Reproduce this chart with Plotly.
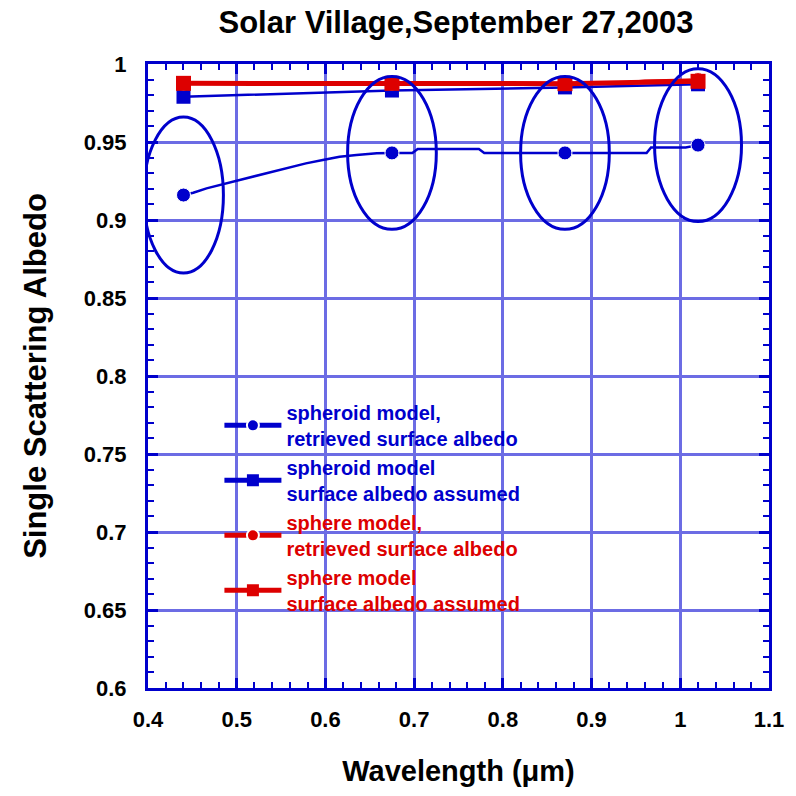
import plotly.graph_objects as go

# AERONET wavelengths (um) and single scattering albedo retrievals
wavelengths = [0.44, 0.675, 0.87, 1.02]
ssa_spheroid_retrieved = [0.916, 0.943, 0.943, 0.948]
ssa_spheroid_assumed = [0.979, 0.983, 0.985, 0.987]
ssa_sphere_retrieved = [0.9878, 0.9878, 0.9878, 0.990]
ssa_sphere_assumed = [0.9876, 0.9876, 0.9874, 0.9889]

# spectral curves between the retrieval wavelengths
curve_spheroid_wl = [0.44, 0.451, 0.466, 0.488, 0.503, 0.522, 0.541, 0.560, 0.578,
                     0.597, 0.616, 0.635, 0.658, 0.675, 0.698, 0.704, 0.773, 0.779,
                     0.87, 0.962, 0.967, 1.006, 1.02]
curve_spheroid_ssa = [0.916, 0.9175, 0.9203, 0.9235, 0.9256, 0.9282, 0.931, 0.9338, 0.9363,
                      0.9385, 0.9406, 0.9417, 0.9428, 0.943, 0.943, 0.9455, 0.9455, 0.943,
                      0.943, 0.943, 0.9465, 0.9465, 0.948]
curve_sphere_wl = [0.44, 0.675, 0.87, 0.93, 0.96, 1.02]
curve_sphere_ssa = [0.9878, 0.9878, 0.9878, 0.9879, 0.9893, 0.990]

# ellipse half-axes around the spheroid retrievals
ellipse_dx = [0.045, 0.05, 0.05, 0.049]
ellipse_dy = [0.05, 0.049, 0.049, 0.049]

BLUE = "#0000cc"
RED = "#dd0000"
GRID = "#6c6ce4"
FONT = "Liberation Sans"


def merged(curve_x, curve_y, pts_x, pts_y, size):
    pts = dict(zip(curve_x, curve_y))
    pts.update(dict(zip(pts_x, pts_y)))
    xs = sorted(pts)
    ys = [pts[x] for x in xs]
    sizes = [size if x in pts_x else 0 for x in xs]
    return xs, ys, sizes


def label(line1, line2, color):
    return (f"<span style='color:{color}'><b>{line1}</b></span><br>"
            f"<span style='color:{color}'><b>{line2}</b></span>")


fig = go.Figure()

x1, y1, s1 = merged(curve_spheroid_wl, curve_spheroid_ssa,
                    wavelengths, ssa_spheroid_retrieved, 14)
fig.add_trace(go.Scatter(
    x=x1, y=y1, mode="lines+markers",
    line=dict(color=BLUE, width=2.5),
    marker=dict(symbol="circle", size=s1, color=BLUE, opacity=1),
    name=label("spheroid model,", "retrieved surface albedo", BLUE)))

fig.add_trace(go.Scatter(
    x=wavelengths, y=ssa_spheroid_assumed, mode="lines+markers",
    line=dict(color=BLUE, width=2.5),
    marker=dict(symbol="square", size=14, color=BLUE),
    name=label("spheroid model", "surface albedo assumed", BLUE)))

x3, y3, s3 = merged(curve_sphere_wl, curve_sphere_ssa,
                    wavelengths, ssa_sphere_retrieved, 14)
fig.add_trace(go.Scatter(
    x=x3, y=y3, mode="lines+markers",
    line=dict(color=RED, width=2.5),
    marker=dict(symbol="circle", size=s3, color=RED, opacity=1),
    name=label("sphere model,", "retrieved surface albedo", RED)))

fig.add_trace(go.Scatter(
    x=wavelengths, y=ssa_sphere_assumed, mode="lines+markers",
    line=dict(color=RED, width=5),
    marker=dict(symbol="square", size=15, color=RED),
    name=label("sphere model", "surface albedo assumed", RED)))

for wl, ssa, dx, dy in zip(wavelengths, ssa_spheroid_retrieved, ellipse_dx, ellipse_dy):
    fig.add_shape(type="circle", xref="x", yref="y",
                  x0=wl - dx, x1=wl + dx, y0=ssa - dy, y1=ssa + dy,
                  line=dict(color=BLUE, width=3))

axis_common = dict(
    showline=True, linecolor=BLUE, linewidth=3, mirror="ticks",
    ticks="inside", ticklen=10, tickwidth=2.5, tickcolor=BLUE,
    showgrid=True, gridcolor=GRID, gridwidth=2.5, zeroline=False,
    tickfont=dict(family=FONT, size=22, color="black", weight="bold"),
)

fig.update_xaxes(
    range=[0.4, 1.1], tick0=0.4, dtick=0.1,
    minor=dict(dtick=0.02, ticks="inside", ticklen=6, tickwidth=2, tickcolor=BLUE, showgrid=False),
    title=dict(text="Wavelength (μm)", standoff=30,
               font=dict(family=FONT, size=29, color="black", weight="bold")),
    ticklabelstandoff=10,
    **axis_common)

fig.update_yaxes(
    range=[0.6, 1.0], tick0=0.6, dtick=0.05,
    minor=dict(dtick=0.01, ticks="inside", ticklen=6, tickwidth=2, tickcolor=BLUE, showgrid=False),
    title=dict(text="Single Scattering Albedo", standoff=28,
               font=dict(family=FONT, size=31, color="black", weight="bold")),
    ticklabelstandoff=14,
    **axis_common)

fig.update_layout(
    width=796, height=796,
    margin=dict(l=148, r=23, t=64, b=108),
    paper_bgcolor="white", plot_bgcolor="white",
    font=dict(family=FONT),
    title=dict(text="Solar Village,September 27,2003", x=456 / 796, xanchor="center",
               y=1 - 22 / 796, yanchor="middle", yref="container",
               font=dict(family=FONT, size=31, color="black", weight="bold")),
    legend=dict(x=0.115, y=0.473, xanchor="left", yanchor="top",
                bgcolor="rgba(0,0,0,0)", itemsizing="constant", itemwidth=57,
                font=dict(family=FONT, size=20, weight="bold")),
    showlegend=True,
)

fig.write_html("out.html")
